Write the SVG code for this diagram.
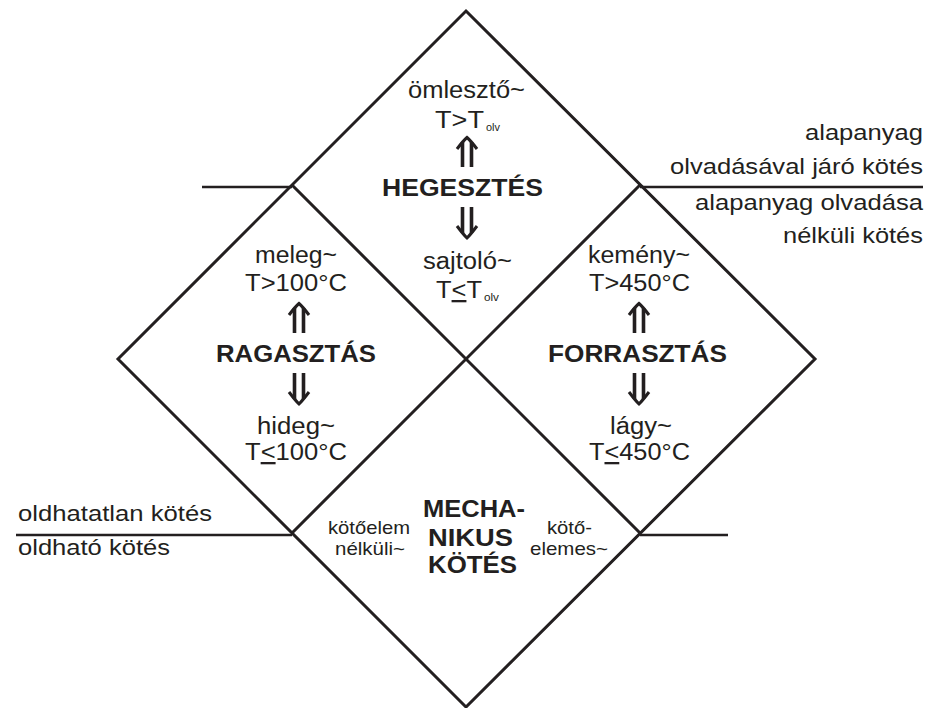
<svg xmlns="http://www.w3.org/2000/svg" width="927" height="708" viewBox="0 0 927 708">
<style>
text{font-family:"Liberation Sans",Arial,sans-serif;fill:#231f20}
.r{font-size:23px}
.b{font-size:23px;font-weight:bold}
.s{font-size:19px}
.sub{font-size:10px}
.lab{font-size:22px}
.d{fill:none;stroke:#231f20;stroke-width:3;stroke-linejoin:miter}
.h{fill:none;stroke:#231f20;stroke-width:2.5}
.cap{fill:none;stroke:#231f20;stroke-width:3}
.stem{fill:none;stroke:#231f20;stroke-width:3.6}
.u{text-decoration:underline}
</style>
<defs>
<g id="up">
<path class="cap" d="M-10,12 Q-4,4 0,0.5 Q4,4 10,12"/>
<path class="stem" d="M-4.5,5 V30 M4.5,5 V30"/>
</g>
<g id="dn">
<path class="cap" d="M-10,19 Q-4,27 0,31 Q4,27 10,19"/>
<path class="stem" d="M-4.5,0 V26 M4.5,0 V26"/>
</g>
</defs>
<g id="frame">
<path class="d" d="M466,11 L815,359 L466,707 L118,359 Z"/>
<path class="d" d="M292,185 L640,533 M640,185 L292,533"/>
</g>
<g id="connectors">
<path class="h" d="M202,187 H292"/>
<path class="h" d="M640,187 H923"/>
<path class="h" d="M16,535 H292"/>
<path class="h" d="M640,535 H728"/>
</g>
<g id="hegesztes">
<text class="r" x="408" y="98" textLength="117" lengthAdjust="spacingAndGlyphs">ömlesztő~</text>
<text class="r" x="435" y="128" textLength="49" lengthAdjust="spacingAndGlyphs">T&gt;T</text>
<text class="sub" x="486" y="131" textLength="14" lengthAdjust="spacingAndGlyphs">olv</text>
<use href="#up" x="467" y="137"/>
<text class="b" x="382" y="196" textLength="161" lengthAdjust="spacingAndGlyphs">HEGESZTÉS</text>
<use href="#dn" x="467" y="207"/>
<text class="r" x="423" y="269" textLength="89" lengthAdjust="spacingAndGlyphs">sajtoló~</text>
<text class="r" x="436" y="298" textLength="46" lengthAdjust="spacingAndGlyphs">T<tspan class="u">&lt;</tspan>T</text>
<text class="sub" x="484" y="301" textLength="15" lengthAdjust="spacingAndGlyphs">olv</text>
</g>
<g id="ragasztas">
<text class="r" x="255" y="263" textLength="82" lengthAdjust="spacingAndGlyphs">meleg~</text>
<text class="r" x="245" y="291" textLength="102" lengthAdjust="spacingAndGlyphs">T&gt;100°C</text>
<use href="#up" x="299" y="303"/>
<text class="b" x="216" y="362" textLength="160" lengthAdjust="spacingAndGlyphs">RAGASZTÁS</text>
<use href="#dn" x="299" y="373"/>
<text class="r" x="257" y="434" textLength="78" lengthAdjust="spacingAndGlyphs">hideg~</text>
<text class="r" x="245" y="460" textLength="102" lengthAdjust="spacingAndGlyphs">T<tspan class="u">&lt;</tspan>100°C</text>
</g>
<g id="forrasztas">
<text class="r" x="588" y="263" textLength="102" lengthAdjust="spacingAndGlyphs">kemény~</text>
<text class="r" x="589" y="291" textLength="101" lengthAdjust="spacingAndGlyphs">T&gt;450°C</text>
<use href="#up" x="639" y="303"/>
<text class="b" x="548" y="362" textLength="179" lengthAdjust="spacingAndGlyphs">FORRASZTÁS</text>
<use href="#dn" x="639" y="373"/>
<text class="r" x="610" y="434" textLength="62" lengthAdjust="spacingAndGlyphs">lágy~</text>
<text class="r" x="589" y="460" textLength="101" lengthAdjust="spacingAndGlyphs">T<tspan class="u">&lt;</tspan>450°C</text>
</g>
<g id="mechanikus">
<text class="b" x="423" y="517" textLength="102" lengthAdjust="spacingAndGlyphs">MECHA-</text>
<text class="b" x="428" y="546" textLength="85" lengthAdjust="spacingAndGlyphs">NIKUS</text>
<text class="b" x="428" y="573" textLength="89" lengthAdjust="spacingAndGlyphs">KÖTÉS</text>
<text class="s" x="328" y="534" textLength="82" lengthAdjust="spacingAndGlyphs">kötőelem</text>
<text class="s" x="335" y="555" textLength="70" lengthAdjust="spacingAndGlyphs">nélküli~</text>
<text class="s" x="547" y="534" textLength="45" lengthAdjust="spacingAndGlyphs">kötő-</text>
<text class="s" x="530" y="555" textLength="78" lengthAdjust="spacingAndGlyphs">elemes~</text>
</g>
<g id="labels-right">
<text class="lab" x="805" y="140" textLength="118" lengthAdjust="spacingAndGlyphs">alapanyag</text>
<text class="lab" x="670" y="174" textLength="253" lengthAdjust="spacingAndGlyphs">olvadásával járó kötés</text>
<text class="lab" x="695" y="210" textLength="228" lengthAdjust="spacingAndGlyphs">alapanyag olvadása</text>
<text class="lab" x="783" y="243" textLength="140" lengthAdjust="spacingAndGlyphs">nélküli kötés</text>
</g>
<g id="labels-left">
<text class="lab" x="18" y="521" textLength="194" lengthAdjust="spacingAndGlyphs">oldhatatlan kötés</text>
<text class="lab" x="18" y="555" textLength="152" lengthAdjust="spacingAndGlyphs">oldható kötés</text>
</g>
</svg>
